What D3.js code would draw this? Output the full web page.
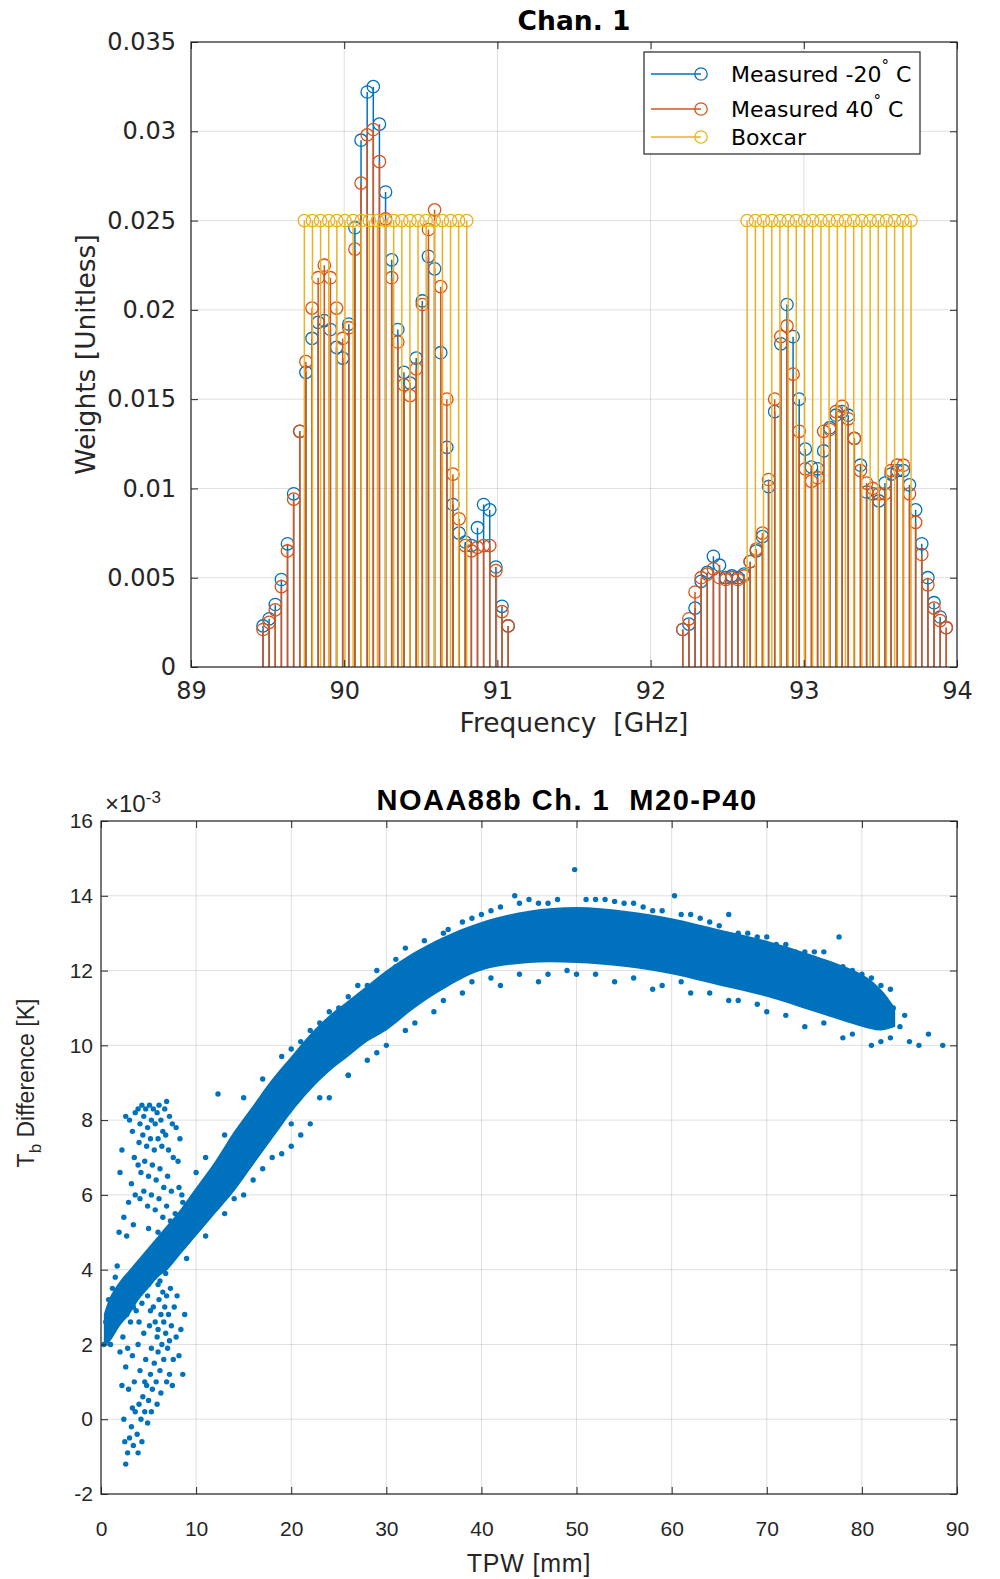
<!DOCTYPE html>
<html><head><meta charset="utf-8">
<script src="https://cdn.jsdelivr.net/npm/d3@7"></script>
<style>body{margin:0;background:#fff} svg{display:block}</style>
</head><body>
<svg id="c" width="1000" height="1579" xmlns="http://www.w3.org/2000/svg"></svg>
<script>
// ---------------- TOP CHART DATA (Chan. 1 weights) ----------------
const leftFreq = [89.47,89.51,89.55,89.59,89.63,89.67,89.71,89.75,89.79,89.83,89.87,89.91,89.95,89.99,90.03,90.07,90.11,90.15,90.19,90.23,90.27,90.31,90.35,90.39,90.43,90.47,90.51,90.55,90.59,90.63,90.67,90.71,90.75,90.79,90.83,90.87,90.91,90.95,90.99,91.03,91.07];
const rightFreq = [92.21,92.25,92.29,92.33,92.37,92.41,92.45,92.49,92.53,92.57,92.61,92.65,92.69,92.73,92.77,92.81,92.85,92.89,92.93,92.97,93.01,93.05,93.09,93.13,93.17,93.21,93.25,93.29,93.33,93.37,93.41,93.45,93.49,93.53,93.57,93.61,93.65,93.69,93.73,93.77,93.81,93.85,93.89,93.93];
const blueLeft = [0.0023,0.0027,0.0035,0.0049,0.0069,0.0097,0.0132,0.0165,0.0184,0.0193,0.0194,0.0189,0.0179,0.0173,0.0192,0.0246,0.0295,0.0322,0.0325,0.0304,0.0266,0.0228,0.0189,0.0165,0.0159,0.0173,0.0205,0.0230,0.0223,0.0176,0.0123,0.0091,0.0075,0.0070,0.0068,0.0078,0.0091,0.0088,0.0056,0.0034,0.0023];
const orangeLeft = [0.0021,0.0025,0.0032,0.0045,0.0065,0.0094,0.0132,0.0171,0.0201,0.0218,0.0225,0.0218,0.0201,0.0184,0.0190,0.0234,0.0271,0.0298,0.0301,0.0283,0.0251,0.0218,0.0182,0.0158,0.0152,0.0167,0.0203,0.0245,0.0256,0.0213,0.0150,0.0108,0.0083,0.0068,0.0065,0.0067,0.0068,0.0068,0.0054,0.0031,0.0023];
const blueRight = [0.0021,0.0024,0.0033,0.0048,0.0053,0.0062,0.0057,0.0050,0.0051,0.0050,0.0052,0.0059,0.0065,0.0073,0.0101,0.0143,0.0181,0.0203,0.0185,0.0150,0.0122,0.0112,0.0111,0.0121,0.0134,0.0141,0.0143,0.0141,0.0128,0.0113,0.0098,0.0097,0.0093,0.0103,0.0108,0.0110,0.0110,0.0102,0.0088,0.0069,0.0050,0.0036,0.0028,0.0022];
const orangeRight = [0.0021,0.0027,0.0042,0.0050,0.0052,0.0055,0.0050,0.0049,0.0050,0.0049,0.0051,0.0059,0.0066,0.0075,0.0105,0.0150,0.0185,0.0191,0.0164,0.0132,0.0111,0.0104,0.0106,0.0132,0.0133,0.0143,0.0146,0.0139,0.0128,0.0110,0.0103,0.0100,0.0097,0.0097,0.0110,0.0113,0.0113,0.0097,0.0081,0.0063,0.0046,0.0033,0.0026,0.0022];
const boxFreq = [89.740,89.793,89.846,89.899,89.952,90.005,90.058,90.111,90.164,90.217,90.270,90.323,90.376,90.429,90.482,90.535,90.588,90.641,90.694,90.747,90.800,
                 92.630,92.684,92.737,92.791,92.844,92.898,92.951,93.005,93.058,93.112,93.165,93.219,93.272,93.326,93.379,93.433,93.486,93.540,93.593,93.647,93.700];
const boxWeight = [0.025,0.025,0.025,0.025,0.025,0.025,0.025,0.025,0.025,0.025,0.025,0.025,0.025,0.025,0.025,0.025,0.025,0.025,0.025,0.025,0.025,
                   0.025,0.025,0.025,0.025,0.025,0.025,0.025,0.025,0.025,0.025,0.025,0.025,0.025,0.025,0.025,0.025,0.025,0.025,0.025,0.025,0.025];
const topXTicks = [89,90,91,92,93,94];
const topYTicks = [0,0.005,0.01,0.015,0.02,0.025,0.03,0.035];
const topYTickLabels = ["0","0.005","0.01","0.015","0.02","0.025","0.03","0.035"];
const legendNames = ["Measured -20", "Measured 40", "Boxcar"];

// ---------------- BOTTOM CHART DATA (units of 1e-3 K) ----------------
const bandTPW = [0.3,1,2,3,4,5,6,7,8,10,12,14,16,18,20,22,24,26,28,30,33,36,40,45,50,55,60,65,70,75,80,82,83.5];
const bandLow = [1.95,2.1,2.5,2.8,3.2,3.5,3.8,4.0,4.3,4.9,5.5,6.1,6.8,7.5,8.2,8.8,9.3,9.7,10.1,10.4,11.0,11.5,12.0,12.2,12.2,12.1,11.9,11.6,11.3,10.9,10.5,10.4,10.5];
const bandHigh = [2.8,3.3,3.7,4.0,4.3,4.6,4.9,5.2,5.5,6.2,6.9,7.7,8.4,9.1,9.7,10.3,10.8,11.2,11.6,12.0,12.5,12.9,13.3,13.6,13.7,13.6,13.4,13.1,12.8,12.4,11.9,11.5,11.0];
const upperCloud = [[2.2,7.2],[2.6,8.1],[3.0,8.0],[3.3,7.7],[3.6,8.2],[3.9,8.3],[4.1,7.9],[4.3,8.4],[4.5,8.1],[4.7,8.3],[4.9,7.8],[5.1,8.4],[5.3,8.0],[5.5,8.3],[5.7,7.9],[5.9,8.2],[6.1,8.4],[6.3,8.0],[6.5,7.7],[6.7,8.3],[6.9,8.5],[7.2,8.1],[7.5,7.9],[7.9,7.8],[8.3,7.5],[4.0,7.4],[4.4,7.6],[4.8,7.3],[5.2,7.5],[5.6,7.2],[6.0,7.5],[6.4,7.3],[6.8,7.6],[7.1,7.2],[7.6,7.0],[8.1,6.9],[3.5,7.0],[3.9,6.8],[4.2,6.6],[4.6,6.9],[5.0,6.5],[5.4,6.8],[5.8,6.4],[6.2,6.7],[6.6,6.2],[7.0,6.5],[7.4,6.1],[3.2,6.3],[3.6,6.0],[4.1,5.9],[4.5,6.1],[4.9,5.7],[5.3,6.0],[5.7,5.6],[6.1,5.9],[6.5,5.4],[6.9,5.7],[7.3,5.3],[2.4,5.4],[2.9,5.8],[3.4,5.2],[7.8,5.5],[8.2,6.2],[8.6,5.8],[2.0,6.6],[1.9,5.0],[2.7,4.9],[5.0,5.1],[6.0,5.0],[7.0,4.9],[8.0,4.7],[8.5,5.2]];
const lowerCloud = [[1.8,2.6],[2.0,1.8],[2.2,0.9],[2.4,0.0],[2.5,-0.6],[2.6,-1.2],[2.8,-0.9],[3.0,-0.5],[3.2,-0.2],[3.4,-0.7],[3.6,0.2],[3.8,-0.4],[4.0,0.4],[4.2,0.0],[4.4,0.6],[4.6,0.2],[4.8,0.9],[5.0,0.5],[5.2,1.2],[5.4,0.8],[5.6,1.5],[5.8,1.0],[6.0,1.8],[6.2,1.3],[6.4,2.0],[6.6,1.6],[6.8,2.3],[7.0,1.9],[7.2,1.2],[7.4,2.5],[7.6,1.6],[7.9,2.2],[8.2,1.7],[8.4,2.4],[2.3,2.2],[2.6,1.4],[2.9,0.8],[3.1,2.6],[3.3,1.7],[3.5,1.0],[3.7,2.9],[3.9,2.0],[4.1,1.3],[4.3,3.1],[4.5,2.3],[4.7,1.6],[4.9,3.3],[5.1,2.5],[5.3,1.9],[5.5,3.0],[5.7,2.6],[5.9,2.2],[6.1,3.2],[6.3,2.8],[6.5,3.4],[6.7,3.0],[6.9,3.3],[7.1,2.8],[7.3,3.5],[7.7,3.0],[8.0,3.3],[2.1,3.0],[2.7,2.8],[3.0,3.2],[3.4,3.0],[3.8,3.4],[4.4,3.5],[5.0,3.6],[5.6,3.8],[6.2,3.7],[6.8,3.9],[3.3,0.3],[3.9,-0.9],[4.3,-0.6],[4.9,-0.1],[5.3,0.2],[5.9,0.4],[6.3,0.7],[6.9,1.0],[7.5,0.9],[8.6,1.2],[8.8,2.8],[2.8,1.9],[4.0,2.6],[4.6,1.0],[5.2,2.9],[6.0,2.4],[6.6,2.6],[7.2,2.1]];
const edgePoints = [[12.3,8.7],[8.5,6.0],[10.0,6.6],[11.0,7.0],[13.0,7.6],[15.0,8.6],[17.0,9.1],[19.0,9.7],[21.0,10.1],[23.0,10.6],[24.0,10.9],[26.0,11.3],[27.0,11.6],[29.0,12.0],[31.0,12.3],[32.0,12.6],[34.0,12.8],[36.0,13.0],[38.0,13.3],[40.0,13.5],[42.0,13.7],[43.5,14.0],[44.0,13.8],[46.0,13.8],[48.0,13.9],[49.8,14.7],[51.0,13.9],[53.0,13.9],[55.0,13.8],[57.0,13.7],[58.0,13.6],[60.3,14.0],[61.0,13.5],[63.0,13.4],[65.0,13.2],[66.0,13.5],[68.0,13.0],[70.0,12.9],[72.0,12.7],[74.0,12.5],[76.0,12.5],[77.6,12.9],[79.0,12.0],[81.0,11.8],[82.0,11.6],
  [36.5,13.1],[39.0,13.4],[41.0,13.6],[45.0,13.9],[47.0,13.8],[52.0,13.9],[54.0,13.85],[56.0,13.8],[59.0,13.6],[62.0,13.5],[64.0,13.3],[67.0,13.0],[69.0,12.9],[71.0,12.7],[73.0,12.5],[75.0,12.5],[78.0,12.1],[80.0,11.9],[83.0,11.5],
  [36.0,11.2],[39.0,11.7],[41.0,11.8],[44.0,11.9],[47.0,11.9],[49.0,12.0],[52.0,11.9],[56.0,11.8],[59.0,11.6],[61.0,11.7],[64.0,11.4],[67.0,11.2],[69.0,11.1],[72.0,10.8],[76.0,10.6],[79.0,10.3],[82.0,10.1],
  [20.0,9.9],[22.0,10.4],[25.0,11.0],[28.0,11.6],[31.0,12.1],[33.0,12.4],[20.0,7.9],[23.0,8.6],[26.0,9.2],[29.0,9.8],[33.0,10.6],
  [6.0,3.6],[9.0,4.3],[11.0,4.9],[13.0,5.5],[14.0,5.9],[15.0,6.0],[16.0,6.4],[17.0,6.7],[18.0,7.0],[19.0,7.1],[20.0,7.3],[21.0,7.6],[22.0,7.9],[24.0,8.6],[26.0,9.2],[28.0,9.6],[30.0,10.0],[32.0,10.4],[35.0,10.9],[38.0,11.4],[42.0,11.6],[46.0,11.7],[50.0,11.9],[54.0,11.7],[58.0,11.5],[62.0,11.4],[66.0,11.2],[70.0,10.9],[74.0,10.5],[78.0,10.2],[81.0,10.0],[83.0,10.2],
  [82.8,10.7],[83.3,11.0],[84.0,10.5],[84.5,10.8],[85.0,10.1],[86.0,10.0],[87.0,10.3],[88.5,10.0],
  [0.3,2.0],[0.6,2.1],[1.0,2.0],[0.5,2.6],[0.8,3.2],[1.2,3.5],[1.5,3.8],[1.7,4.1]];
const botXTicks = [0,10,20,30,40,50,60,70,80,90];
const botYTicks = [-2,0,2,4,6,8,10,12,14,16];

// ---------------- STYLE ----------------
const AX = "#262626";
const C_BLUE = "#0072BD", C_ORANGE = "#D95319", C_YELLOW = "#EDB120";
const svg = d3.select("#c");

function styleAxis(g, fam, size){
  g.select(".domain").remove();
  g.attr("font-family",fam).attr("font-size",size);
  g.selectAll(".tick line").attr("stroke",AX).attr("stroke-width",1);
  g.selectAll(".tick text").attr("fill",AX);
}

// ================= TOP CHART =================
const T = {l:191, r:957, t:42, b:667};
const FT = "DejaVu Sans";
const xT = d3.scaleLinear().domain([89,94]).range([T.l,T.r]);
const yT = d3.scaleLinear().domain([0,0.035]).range([T.b,T.t]);
const gTop = svg.append("g");
const gridT = gTop.append("g").attr("stroke",AX).attr("stroke-opacity",0.15).attr("stroke-width",1);
gridT.selectAll(".gx").data(topXTicks).join("line").attr("class","gx").attr("x1",d=>xT(d)).attr("x2",d=>xT(d)).attr("y1",T.t).attr("y2",T.b);
gridT.selectAll(".gy").data(topYTicks).join("line").attr("class","gy").attr("y1",d=>yT(d)).attr("y2",d=>yT(d)).attr("x1",T.l).attr("x2",T.r);

const series = [
  {name:legendNames[0], color:C_BLUE, f:leftFreq.concat(rightFreq), v:blueLeft.concat(blueRight)},
  {name:legendNames[1], color:C_ORANGE, f:leftFreq.concat(rightFreq), v:orangeLeft.concat(orangeRight)},
  {name:legendNames[2], color:C_YELLOW, f:boxFreq, v:boxWeight}
];
const stemG = gTop.append("g");
series.forEach(s => {
  const data = s.f.map((f,i)=>({f, v:s.v[i]}));
  const g = stemG.append("g");
  g.selectAll("line").data(data).join("line")
    .attr("x1",d=>xT(d.f)).attr("x2",d=>xT(d.f)).attr("y1",yT(0)).attr("y2",d=>yT(d.v))
    .attr("stroke",s.color).attr("stroke-width",1.5);
  g.selectAll("circle").data(data).join("circle")
    .attr("cx",d=>xT(d.f)).attr("cy",d=>yT(d.v)).attr("r",6.2)
    .attr("fill","none").attr("stroke",s.color).attr("stroke-width",1.3);
});

styleAxis(gTop.append("g").attr("transform",`translate(0,${T.b})`)
  .call(d3.axisBottom(xT).tickValues(topXTicks).tickFormat(d3.format("d")).tickSize(-7).tickPadding(15)), FT, 24);
styleAxis(gTop.append("g").attr("transform",`translate(0,${T.t})`)
  .call(d3.axisTop(xT).tickValues(topXTicks).tickFormat("").tickSize(-7)), FT, 24);
styleAxis(gTop.append("g").attr("transform",`translate(${T.l},0)`)
  .call(d3.axisLeft(yT).tickValues(topYTicks).tickFormat((d,i)=>topYTickLabels[i]).tickSize(-7).tickPadding(15)), FT, 24);
styleAxis(gTop.append("g").attr("transform",`translate(${T.r},0)`)
  .call(d3.axisRight(yT).tickValues(topYTicks).tickFormat("").tickSize(-7)), FT, 24);
gTop.append("rect").attr("x",T.l).attr("y",T.t).attr("width",T.r-T.l).attr("height",T.b-T.t)
  .attr("fill","none").attr("stroke",AX).attr("stroke-width",1.2);

gTop.append("text").attr("x",(T.l+T.r)/2).attr("y",30).attr("text-anchor","middle")
  .attr("font-family",FT).attr("font-weight","bold").attr("font-size",26.5).attr("fill","#000").text("Chan. 1");
gTop.append("text").attr("x",(T.l+T.r)/2).attr("y",732).attr("text-anchor","middle")
  .style("white-space","pre").attr("font-family",FT).attr("font-size",26.5).attr("fill",AX).text("Frequency  [GHz]");
gTop.append("text").attr("transform",`translate(95,${(T.t+T.b)/2}) rotate(-90)`).attr("text-anchor","middle")
  .attr("font-family",FT).attr("font-size",26.5).attr("fill",AX).text("Weights [Unitless]");

// legend
const L = {x:644, y:52, w:276, h:102};
const leg = gTop.append("g");
leg.append("rect").attr("x",L.x).attr("y",L.y).attr("width",L.w).attr("height",L.h).attr("fill","#fff").attr("stroke",AX).attr("stroke-width",1.2);
const rowY = [74,109,137];
series.forEach((s,i)=>{
  const y = rowY[i];
  leg.append("line").attr("x1",651).attr("x2",701).attr("y1",y).attr("y2",y).attr("stroke",s.color).attr("stroke-width",1.5);
  leg.append("circle").attr("cx",701).attr("cy",y).attr("r",6.2).attr("fill","none").attr("stroke",s.color).attr("stroke-width",1.3);
  const t = leg.append("text").attr("x",731).attr("y",y+8).attr("font-family",FT).attr("font-size",22).attr("fill","#000");
  t.append("tspan").text(s.name);
  if(i<2){
    t.append("tspan").attr("dy",-11).attr("font-size",15).text("°");
    t.append("tspan").attr("dy",11).text(" C");
  }
});

// ================= BOTTOM CHART =================
const B = {l:101, r:957, t:821, b:1494};
const FB = "Liberation Sans";
const xB = d3.scaleLinear().domain([0,90]).range([B.l,B.r]);
const yB = d3.scaleLinear().domain([-2,16]).range([B.b,B.t]);
const gBot = svg.append("g");
svg.append("defs").append("clipPath").attr("id","clipB").append("rect")
  .attr("x",B.l).attr("y",B.t).attr("width",B.r-B.l).attr("height",B.b-B.t);
const gridB = gBot.append("g").attr("stroke",AX).attr("stroke-opacity",0.15).attr("stroke-width",1);
gridB.selectAll(".gx").data(botXTicks).join("line").attr("class","gx").attr("x1",d=>xB(d)).attr("x2",d=>xB(d)).attr("y1",B.t).attr("y2",B.b);
gridB.selectAll(".gy").data(botYTicks).join("line").attr("class","gy").attr("y1",d=>yB(d)).attr("y2",d=>yB(d)).attr("x1",B.l).attr("x2",B.r);

const scat = gBot.append("g").attr("clip-path","url(#clipB)");
const band = bandTPW.map((x,i)=>({x, lo:bandLow[i], hi:bandHigh[i]}));
scat.append("path").datum(band)
  .attr("d", d3.area().curve(d3.curveCatmullRom).x(d=>xB(d.x)).y0(d=>yB(d.lo)).y1(d=>yB(d.hi)))
  .attr("fill",C_BLUE);
const pts = upperCloud.concat(lowerCloud, edgePoints);
scat.selectAll("circle").data(pts).join("circle")
  .attr("cx",d=>xB(d[0])).attr("cy",d=>yB(d[1])).attr("r",2.7).attr("fill",C_BLUE);

const intFmt = d => String(d);
styleAxis(gBot.append("g").attr("transform",`translate(0,${B.b})`)
  .call(d3.axisBottom(xB).tickValues(botXTicks).tickFormat(intFmt).tickSize(-7).tickPadding(27)), FB, 21);
styleAxis(gBot.append("g").attr("transform",`translate(0,${B.t})`)
  .call(d3.axisTop(xB).tickValues(botXTicks).tickFormat("").tickSize(-7)), FB, 21);
styleAxis(gBot.append("g").attr("transform",`translate(${B.l},0)`)
  .call(d3.axisLeft(yB).tickValues(botYTicks).tickFormat(intFmt).tickSize(-7).tickPadding(8)), FB, 21);
styleAxis(gBot.append("g").attr("transform",`translate(${B.r},0)`)
  .call(d3.axisRight(yB).tickValues(botYTicks).tickFormat("").tickSize(-7)), FB, 21);
gBot.append("rect").attr("x",B.l).attr("y",B.t).attr("width",B.r-B.l).attr("height",B.b-B.t)
  .attr("fill","none").attr("stroke",AX).attr("stroke-width",1.2);

const ex = gBot.append("text").attr("x",B.l+4).attr("y",812).attr("font-family",FB).attr("font-size",24).attr("fill",AX);
ex.append("tspan").text("×10");
ex.append("tspan").attr("dy",-9).attr("font-size",17).text("-3");
gBot.append("text").attr("x",567).attr("y",810).attr("text-anchor","middle").style("white-space","pre")
  .attr("font-family",FB).attr("font-weight","bold").attr("font-size",29).attr("letter-spacing",1.5)
  .attr("fill","#000").text("NOAA88b Ch. 1  M20-P40");
gBot.append("text").attr("x",(B.l+B.r)/2).attr("y",1572).attr("text-anchor","middle")
  .attr("font-family",FB).attr("font-size",25).attr("letter-spacing",0.8).attr("fill",AX).text("TPW [mm]");
const yl = gBot.append("text").attr("transform",`translate(34,1083) rotate(-90)`).attr("text-anchor","middle")
  .attr("font-family",FB).attr("font-size",23).attr("fill",AX);
yl.append("tspan").text("T");
yl.append("tspan").attr("dy",7).attr("font-size",17).text("b");
yl.append("tspan").attr("dy",-7).text(" Difference [K]");
</script>
</body></html>
